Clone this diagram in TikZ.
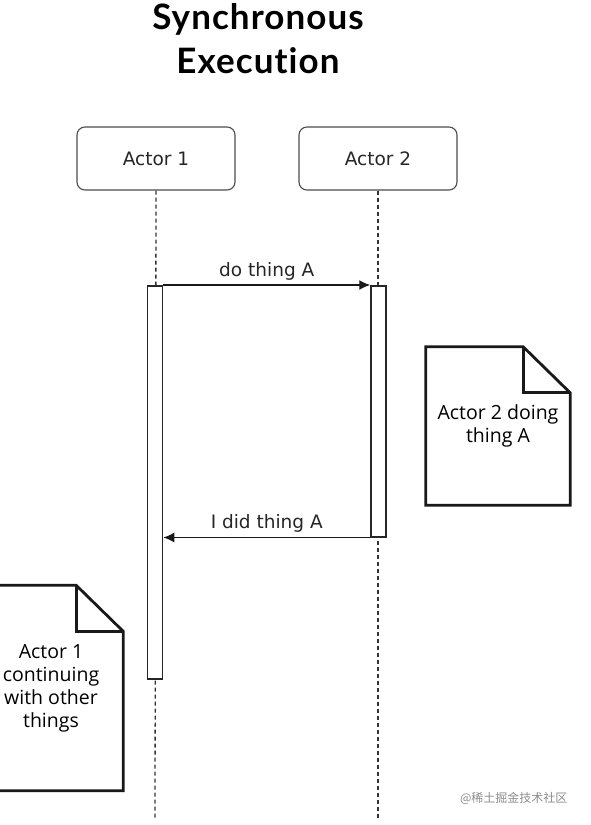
\documentclass[tikz,border=0pt]{standalone}
\usepackage{fontspec}
\setmainfont{DejaVu Sans}
\newfontfamily\notefont{Open Sans}
\newfontfamily\titlefont{Lato}[LetterSpace=3,Ligatures={NoCommon,NoRare,NoContextual}]
\newfontfamily\cjkfont{Noto Sans CJK SC}
\usetikzlibrary{arrows.meta,positioning,calc}
\tikzset{
  actor/.style={draw=black!70,rounded corners=8pt,line width=1.1pt,
    minimum width=158,minimum height=63,text=black!85,
    font=\fontsize{18.5}{21}\selectfont},
  lifeline/.style={draw=black!80,line width=1.3pt,dash pattern=on 4pt off 3pt},
  activation/.style={draw=black!85,fill=white,line width=1.5pt,
    minimum width=15,inner sep=0pt},
  message/.style={-{Latex[length=11pt,width=10pt]},line width=1.4pt,draw=black!90},
  msglabel/.style={text=black!85,font=\fontsize{18.5}{21}\selectfont},
  note/.style={align=center,inner sep=0pt,text=black,
    font=\notefont\fontsize{19.5}{23}\selectfont},
  noteline/.style={line width=2.8pt,line join=miter,draw=black!90}
}
\begin{document}
\begin{tikzpicture}[x=1pt,y=-1pt]
  \useasboundingbox (0,0) rectangle (590,825);
  \clip (0,0) rectangle (590,825);
  % title
  \node[anchor=base,font=\titlefont\bfseries\fontsize{35}{40}\selectfont] (title1) at (258,29) {Synchronous};
  \node[anchor=base,font=\titlefont\bfseries\fontsize{35}{40}\selectfont] (title2) at (258,73) {Execution};
  % actors and lifelines
  \node[actor] (actor1) at (156,158.5) {Actor 1};
  \node[actor] (actor2) at (378,158.5) {Actor 2};
  \coordinate (end1) at (155,818);
  \coordinate (end2) at (378,818);
  \draw[lifeline] (actor1.south) -- (end1);
  \draw[lifeline] (actor2.south) -- (end2);
  % activation bars
  \node[activation,minimum height=393,anchor=north] (act1) at (155,285) {};
  \node[activation,minimum height=251,anchor=north] (act2) at (378.5,285) {};
  % messages
  \draw[message] (act1.north east) -- node[msglabel,above=1pt] {do thing A} (act2.north west);
  \draw[message] (act2.south west) -- node[msglabel,above=1pt] {I did thing A} (act1.east |- act2.south);
  % notes
  \node[note,minimum width=144,minimum height=158] (note2) at (498,426) {Actor 2 doing\\thing A};
  \node[note,minimum width=144,minimum height=205] (note1) at (51,688) {Actor 1\\continuing\\with other\\things};
  \foreach \n in {note1,note2} {
    \draw[noteline] (\n.north west) -- ($(\n.north east)+(-47,0)$) -- ($(\n.north east)+(0,46)$)
      -- (\n.south east) -- (\n.south west) -- cycle;
    \draw[noteline] ($(\n.north east)+(-47,0)$) |- ($(\n.north east)+(0,46)$);
  }
  % watermark
  \node[anchor=east,text=black!45,font=\cjkfont\fontsize{12}{14}\selectfont] (mark) at (571,798) {@稀土掘金技术社区};
\end{tikzpicture}
\end{document}
